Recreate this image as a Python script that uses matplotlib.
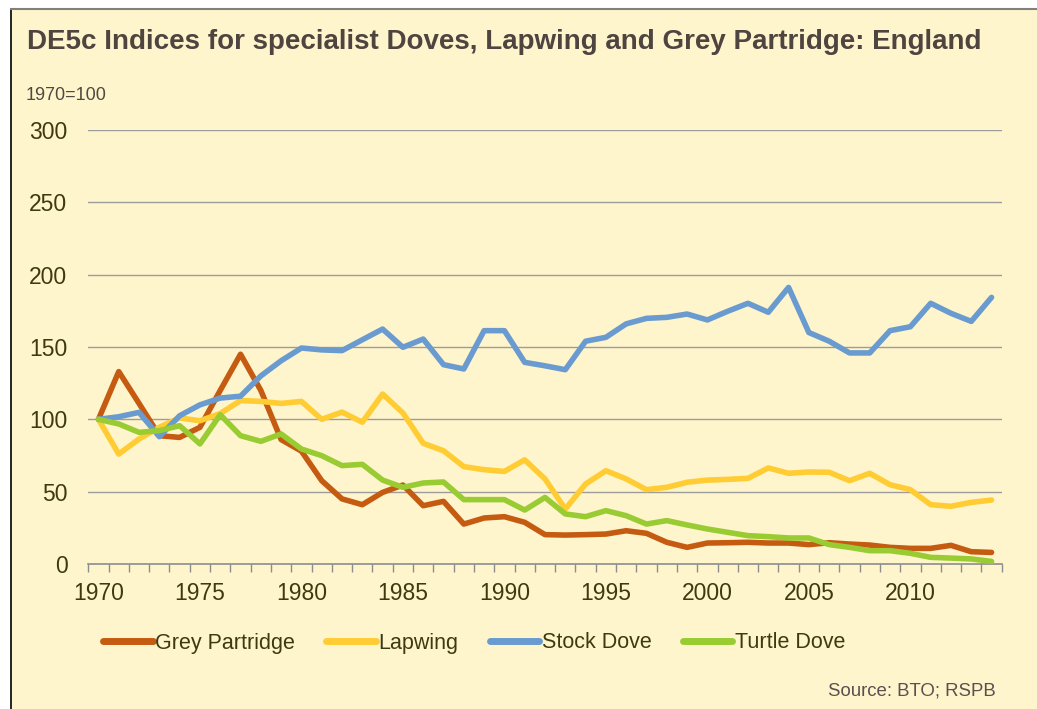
import matplotlib
matplotlib.use("Agg")
import matplotlib.pyplot as plt
from matplotlib.lines import Line2D
from matplotlib.patches import Rectangle

plt.rcParams['font.family'] = ['Liberation Sans', 'DejaVu Sans']

years = list(range(1970, 2015))
grey_partridge = [100, 133, 111, 88.7, 87.5, 94.5, 120, 145, 120, 86, 78, 57.6, 45, 41, 49.5, 54.6,
                  40.3, 43.3, 27.6, 31.8, 32.7, 28.8, 20.3, 20, 20.3, 20.7, 23, 21.2, 15, 11.5, 14.5,
                  14.7, 15, 14.5, 14.5, 13.4, 14.7, 13.8, 13.1, 11.5, 10.8, 10.8, 12.9, 8.5, 8]
lapwing = [100, 76, 86.4, 94.5, 101, 99, 104, 113, 112.4, 111, 112.4, 100, 105, 98, 117.5, 104.4,
           83.4, 78.3, 67.3, 65.2, 64, 72, 58.8, 38, 55.3, 64.5, 58.8, 51.4, 53, 56.5, 58,
           58.5, 59.2, 66.4, 62.7, 63.6, 63.4, 57.6, 62.7, 54.8, 51.4, 41, 39.9, 42.6, 44.2]
stock_dove = [100, 101.8, 104.8, 88, 102.5, 110, 114.7, 116, 130, 140.5, 149.3, 148, 147.5, 155, 162.4,
              149.8, 155.5, 137.8, 134.8, 161.3, 161.3, 139.4, 137, 134.3, 154, 156.7, 166, 169.8, 170.5,
              172.8, 168.7, 174.7, 180.2, 174, 191.2, 160, 154, 145.9, 145.9, 161.3, 164, 180.2, 173.3,
              167.7, 184.3]
turtle_dove = [100, 96.8, 91, 92.2, 95.6, 83, 103.2, 88.7, 84.8, 89.9, 79.5, 74.9, 68, 68.9, 58, 53,
               56, 56.7, 44.5, 44.5, 44.5, 37.3, 46, 34.6, 32.7, 36.9, 33.4, 27.6, 30, 27, 24.2,
               21.9, 19.6, 18.9, 18, 18, 13.4, 11.5, 9.2, 9.2, 7.4, 4.6, 4.1, 3.5, 1.8]
series_names = ["Grey Partridge", "Lapwing", "Stock Dove", "Turtle Dove"]
series_values = [grey_partridge, lapwing, stock_dove, turtle_dove]
colors = ["#C55A11", "#FFCC33", "#6A9BD0", "#99CC33"]
yticks = [0, 50, 100, 150, 200, 250, 300]
xlabel_years = [1970, 1975, 1980, 1985, 1990, 1995, 2000, 2005, 2010]

W, H = 1037, 709
fig = plt.figure(figsize=(W / 100, H / 100), dpi=100)
fig.patch.set_facecolor("white")
bg = "#FFF5CC"
fig.add_artist(Rectangle((11 / W, 0), 1 - 11 / W, 1 - 9 / H, transform=fig.transFigure,
                         facecolor=bg, edgecolor="none", zorder=0))
fig.add_artist(Line2D([11 / W, 11 / W], [0, 1 - 9 / H], transform=fig.transFigure, color="black", lw=1.2))
fig.add_artist(Line2D([11 / W, 1], [1 - 9 / H, 1 - 9 / H], transform=fig.transFigure, color="#808080", lw=1.5))

left, right = 88.3 / W, 1001.7 / W
bottom, top = 1 - 564 / H, 1 - 130 / H
ax = fig.add_axes([left, bottom, right - left, top - bottom])
ax.set_facecolor("none")

x = list(range(len(years)))
for name, vals, c in zip(series_names, series_values, colors):
    ax.plot(x, vals, color=c, lw=4.0, solid_capstyle="round", solid_joinstyle="round", label=name, zorder=3)

ax.set_xlim(-0.5, len(years) - 0.5)
ax.set_ylim(0, 300)
ax.set_yticks(yticks)
ax.set_yticklabels([str(v) for v in yticks], fontsize=16.5, color="#3D3A12")
ax.tick_params(axis="y", length=0, pad=15)
for v in yticks[1:]:
    ax.axhline(v, color="#9C9C9C", lw=1.0, zorder=1)

ax.set_xticks([i - 0.5 for i in range(len(years) + 1)])
ax.set_xticklabels([])
ax.tick_params(axis="x", which="major", length=6, width=1, color="#8C8C8C", direction="out")
ax.set_xticks([years.index(y) for y in xlabel_years], minor=True)
ax.set_xticklabels([str(y) for y in xlabel_years], minor=True, fontsize=16.5, color="#3D3A12")
ax.tick_params(axis="x", which="minor", length=0, pad=13)

for s in ["left", "right", "top"]:
    ax.spines[s].set_visible(False)
ax.spines["bottom"].set_color("#8C8C8C")
ax.spines["bottom"].set_linewidth(1.2)

fig.text(27 / W, 1 - 49.3 / H, "DE5c Indices for specialist Doves, Lapwing and Grey Partridge: England",
         fontsize=20, fontweight="bold", color="#4E4440", va="baseline", ha="left")
fig.text(26 / W, 1 - 100 / H, "1970=100", fontsize=13, color="#4E4A40", va="baseline", ha="left")
fig.text(995.7 / W, 1 - 695 / H, "Source: BTO; RSPB", fontsize=13.4, color="#5A5050", va="baseline", ha="right")

handles = [Line2D([0], [0], color=c, lw=5, solid_capstyle="round") for c in colors]
leg = fig.legend(handles, series_names, loc="center left", bbox_to_anchor=(103 / W, 1 - 643 / H),
                 ncol=4, frameon=False, fontsize=15.5, handlelength=2.3, handletextpad=0.12,
                 columnspacing=1.45, borderpad=0, borderaxespad=0)
for t in leg.get_texts():
    t.set_color("#3D3A12")

fig.savefig("out.png", dpi=100, facecolor="white")
